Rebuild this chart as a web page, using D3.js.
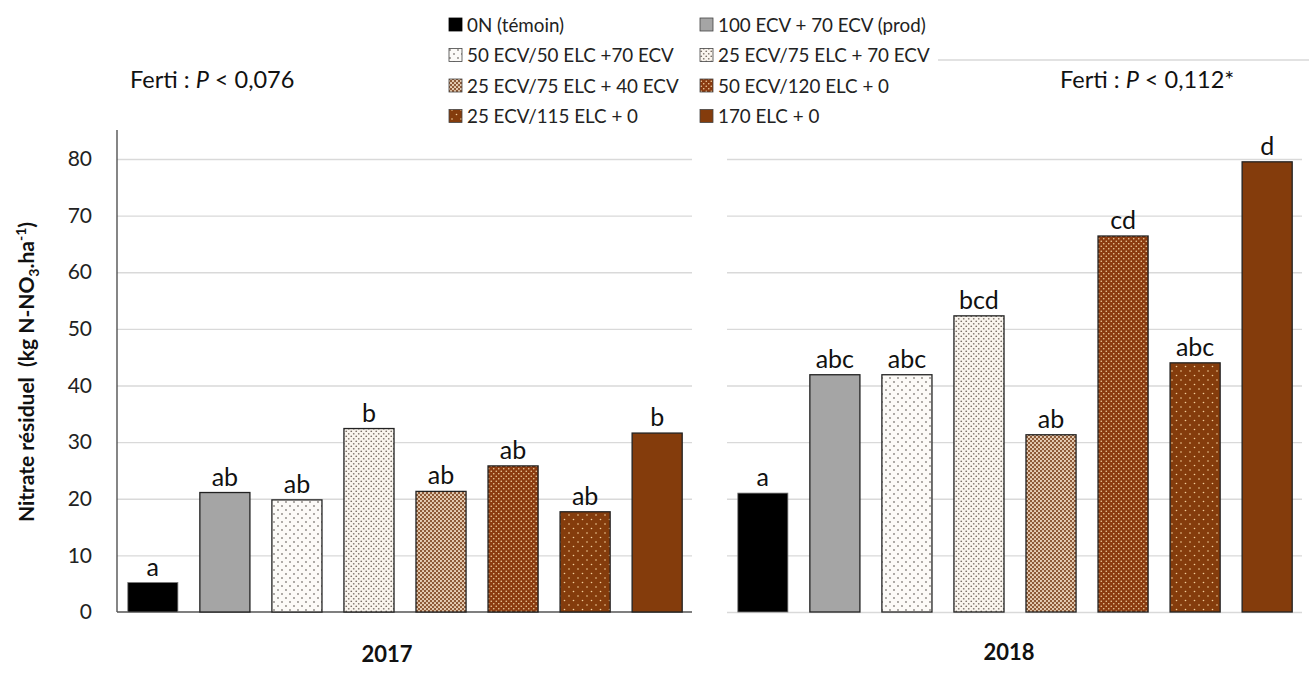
<!DOCTYPE html>
<html><head><meta charset="utf-8">
<script src="https://cdn.jsdelivr.net/npm/d3@7"></script>
<style>body{margin:0;background:#fff}svg{display:block}text{font-family:Lato,"Open Sans",sans-serif}</style>
</head><body>
<svg id="c" width="1309" height="673"></svg>
<script>
const treatments = ["0N (témoin)","100 ECV + 70 ECV (prod)","50 ECV/50 ELC +70 ECV","25 ECV/75 ELC + 70 ECV","25 ECV/75 ELC + 40 ECV","50 ECV/120 ELC + 0","25 ECV/115 ELC + 0","170 ELC + 0"];
const years = ["2017","2018"];
const values2017 = [5.2, 21.1, 19.8, 32.4, 21.3, 25.8, 17.7, 31.6];
const values2018 = [21.0, 41.9, 41.9, 52.3, 31.3, 66.4, 44.0, 79.5];
const letters2017 = ["a","ab","ab","b","ab","ab","ab","b"];
const letters2018 = ["a","abc","abc","bcd","ab","cd","abc","d"];
const pvalues = ["0,076","0,112*"];
const yTicks = [0,10,20,30,40,50,60,70,80];

const svg = d3.select("#c");
const defs = svg.append("defs");
function pat(id, w, h, bg, dots, col, r){
  const p = defs.append("pattern").attr("id",id).attr("patternUnits","userSpaceOnUse").attr("width",w).attr("height",h);
  p.append("rect").attr("width",w).attr("height",h).attr("fill",bg);
  dots.forEach(d=>p.append("circle").attr("cx",d[0]).attr("cy",d[1]).attr("r",r).attr("fill",col));
}
pat("p2",8,8,"#fcfaf7",[[2,2],[6,6]],"#8a8580",0.9);
pat("p3",5,5,"#faf5ee",[[1.25,1.25],[3.75,3.75]],"#7a7068",0.85);
pat("p4",4,4,"#8e5a37",[[1,1],[3,3]],"#efd9c0",1.05);
pat("p5",5,5,"#8a3b10",[[1.25,1.25],[3.75,3.75]],"#f0cfa0",0.8);
pat("p6",9,9,"#843c0c",[[2,2],[6.5,6.5]],"#f3cf9a",0.8);
const fills = ["#000000","#a5a5a5","url(#p2)","url(#p3)","url(#p4)","url(#p5)","url(#p6)","#843c0c"];

const y = d3.scaleLinear().domain([0,80]).range([612,159]);
const panels = [
  {vals: values2017, lets: letters2017, x0:117, x1:693, axis:true},
  {vals: values2018, lets: letters2018, x0:727, x1:1303, axis:false}
];

panels.forEach((pn,pi)=>{
  const x = d3.scaleBand().domain(treatments).range([pn.x0,pn.x1]).paddingInner(0.305).paddingOuter(0.15);
  const g = svg.append("g");
  g.append("g").attr("transform",`translate(${pn.x0},0)`)
    .call(d3.axisLeft(y).tickValues(pi===0? yTicks.slice(1): yTicks).tickSize(-(pn.x1-pn.x0-1)).tickFormat(""))
    .call(a=>a.select(".domain").remove())
    .call(a=>a.selectAll("line").attr("stroke","#d9d9d9").attr("stroke-width",1.3));
  if(pn.axis){
    g.append("g").attr("transform",`translate(${pn.x0},0)`)
      .call(d3.axisLeft(y).tickValues(yTicks).tickSize(0).tickPadding(25))
      .call(a=>a.select(".domain").remove())
      .call(a=>a.selectAll("text").attr("font-size",21).attr("fill","#222").attr("font-family","Lato,sans-serif"));
    g.append("line").attr("x1",pn.x0).attr("x2",pn.x0).attr("y1",y(0)).attr("y2",y(85.1)).attr("stroke","#444").attr("stroke-width",1.3);
    g.append("line").attr("x1",pn.x0).attr("x2",pn.x1-1).attr("y1",y(0)).attr("y2",y(0)).attr("stroke","#555").attr("stroke-width",1.5);
  }
  g.selectAll("rect.bar").data(pn.vals).join("rect").attr("class","bar")
    .attr("x",(d,i)=>x(treatments[i])).attr("width",x.bandwidth())
    .attr("y",d=>y(d)).attr("height",d=>y(0)-y(d))
    .attr("fill",(d,i)=>fills[i])
    .attr("stroke",(d,i)=> i===0 ? "#777" : "#222").attr("stroke-width",(d,i)=> i===0?0.8:1.3);
  g.selectAll("text.lt").data(pn.vals).join("text").attr("class","lt")
    .attr("x",(d,i)=>x(treatments[i])+x.bandwidth()/2).attr("y",d=>y(d)-7)
    .attr("text-anchor","middle").attr("font-size",25).attr("fill","#111")
    .text((d,i)=>pn.lets[i]);
  svg.append("text").attr("x",(pn.x0+pn.x1)/2 + (pi===0?-18:-6)).attr("y",pi===0?662:660)
    .attr("text-anchor","middle").attr("font-size",22).attr("font-weight","bold").attr("fill","#111").text(years[pi]);
});

[[130,88,pvalues[0]],[1060,88,pvalues[1]]].forEach(a=>{
  const t = svg.append("text").attr("x",a[0]).attr("y",a[1]).attr("font-size",23.5).attr("fill","#111");
  t.append("tspan").text("Ferti : ");
  t.append("tspan").attr("font-style","italic").text("P");
  t.append("tspan").text(" < "+a[2]);
});
svg.append("line").attr("x1",938).attr("x2",1309).attr("y1",60).attr("y2",60).attr("stroke","#d9d9d9").attr("stroke-width",1.3);

svg.append("text").attr("transform","translate(34,372) rotate(-90)").attr("text-anchor","middle")
  .attr("font-size",21).attr("font-weight","bold").attr("fill","#111")
  .call(t=>{
    t.append("tspan").text("Nitrate résiduel\u00a0\u00a0(kg N-NO");
    t.append("tspan").attr("font-size",14).attr("dy",5).text("3");
    t.append("tspan").attr("dy",-5).text(".ha");
    t.append("tspan").attr("font-size",14).attr("dy",-8).text("-1");
    t.append("tspan").attr("dy",8).text(")");
  });

const leg = svg.append("g");
treatments.forEach((t,i)=>{
  const col = i%2, row = Math.floor(i/2);
  const lx = col===0 ? 449 : 700, ly = 25 + row*30.5;
  leg.append("rect").attr("x",lx).attr("y",ly-7).attr("width",13).attr("height",13)
    .attr("fill",fills[i]).attr("stroke",i===0?"#000":"#444").attr("stroke-width",0.8);
  leg.append("text").attr("x",lx+18).attr("y",ly+6.5).attr("font-size",18.8).attr("fill","#222").text(t);
});
</script>
</body></html>
